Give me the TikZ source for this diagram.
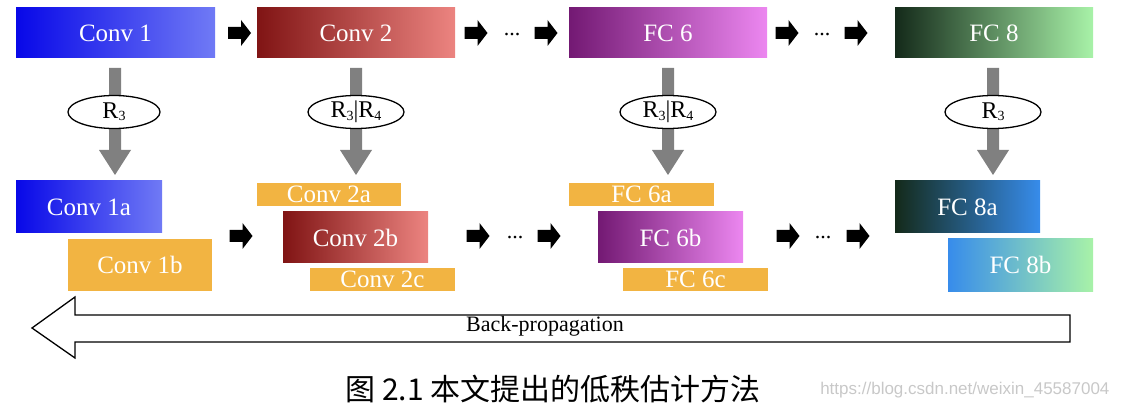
\documentclass[tikz,border=0pt]{standalone}
\usepackage{fontspec}
\setmainfont{Liberation Serif}
\newfontfamily\cjk{Noto Sans CJK SC}
\newfontfamily\wmfont{Liberation Sans}
\usetikzlibrary{shapes.geometric}
\definecolor{bluea}{RGB}{8,8,232}
\definecolor{blueb}{RGB}{112,122,245}
\definecolor{reda}{RGB}{128,20,20}
\definecolor{redb}{RGB}{236,132,128}
\definecolor{purpa}{RGB}{115,25,115}
\definecolor{purpb}{RGB}{236,135,240}
\definecolor{greena}{RGB}{20,42,26}
\definecolor{greenb}{RGB}{168,242,168}
\definecolor{skyb}{RGB}{55,140,235}
\definecolor{orng}{RGB}{242,180,66}
\definecolor{grayarr}{RGB}{128,128,128}
\definecolor{wmgray}{RGB}{200,200,200}
\begin{document}
\begin{tikzpicture}[x=1pt,y=-1pt,
  layer/.style={inner sep=0pt,text=white,font=\fontsize{25}{25}\selectfont},
  bigbox/.style={layer,minimum width=198pt,minimum height=50pt},
  subbox/.style={layer,minimum width=145pt,minimum height=52pt},
  thinbox/.style={layer,fill=orng,minimum width=145pt,minimum height=23pt},
  blk/.style={fill=black},
  grayarrow/.style={fill=grayarr},
  dots/.style={font=\fontsize{22}{22}\selectfont},
  rank/.style={ellipse,draw,line width=1.3pt,fill=white,inner sep=0pt,
    minimum width=96pt,minimum height=33pt,font=\fontsize{24}{24}\selectfont},
  back/.style={draw,line width=1.3pt,fill=white,line join=miter}
]
\useasboundingbox (0,0) rectangle (1122,414);
\newcommand{\Rsub}[1]{R\raisebox{-0.1em}{\fontsize{14}{14}\selectfont #1}}
% block arrow pointing right, centred at (#1,#2)
\newcommand{\blkarrow}[2]{\fill[blk] (#1-11.5,#2-6) -- (#1+1.5,#2-6) -- (#1+1.5,#2-13)
  -- (#1+11.5,#2) -- (#1+1.5,#2+13) -- (#1+1.5,#2+6) -- (#1-11.5,#2+6) -- cycle;}
% gray arrow pointing down at x=#1
\newcommand{\grayarrowat}[1]{\fill[grayarrow] (#1-6,68) -- (#1+6,68) -- (#1+6,150)
  -- (#1+16,150) -- (#1,175) -- (#1-16,150) -- (#1-6,150) -- cycle;}

% top row
\node[bigbox,minimum width=199pt,left color=bluea,right color=blueb] (c1) at (115.5,33) {Conv 1};
\node[bigbox,left color=reda,right color=redb] (c2) at (356,33) {Conv 2};
\node[bigbox,left color=purpa,right color=purpb] (f6) at (668,33) {FC 6};
\node[bigbox,left color=greena,right color=greenb] (f8) at (994,33) {FC 8};

\blkarrow{239.5}{33}
\blkarrow{476}{33}
\node[dots] (td1) at (512,35) {...};
\blkarrow{546}{33}
\blkarrow{787}{33}
\node[dots] (td2) at (822,35) {...};
\blkarrow{856}{33}

% gray down arrows with rank ellipses
\grayarrowat{115}
\grayarrowat{356}
\grayarrowat{668}
\grayarrowat{993}
\node[rank,minimum width=92pt] (r1) at (114,112) {\Rsub{3}};
\node[rank] (r2) at (356,112) {\Rsub{3}|\Rsub{4}};
\node[rank] (r3) at (668,112) {\Rsub{3}|\Rsub{4}};
\node[rank] (r4) at (993,112) {\Rsub{3}};

% bottom row
\node[subbox,minimum width=146pt,left color=bluea,right color=blueb] (c1a) at (89,207) {Conv 1a};
\node[subbox,minimum width=144pt,fill=orng] (c1b) at (140,265) {Conv 1b};
\node[thinbox,minimum width=144pt] (c2a) at (329,194.5) {Conv 2a};
\node[subbox,minimum height=51pt,left color=reda,right color=redb] (c2b) at (355.5,237.5) {Conv 2b};
\node[thinbox] (c2c) at (382.5,279.5) {Conv 2c};
\node[thinbox] (f6a) at (641.5,194.5) {FC 6a};
\node[subbox,minimum height=51pt,left color=purpa,right color=purpb] (f6b) at (670.5,237.5) {FC 6b};
\node[thinbox] (f6c) at (695.5,279.5) {FC 6c};
\node[subbox,left color=greena,right color=skyb] (f8a) at (967.5,207) {FC 8a};
\node[subbox,left color=skyb,right color=greenb] (f8b) at (1020.5,265) {FC 8b};

\blkarrow{241}{236}
\blkarrow{478}{236}
\node[dots] (bd1) at (515,238) {...};
\blkarrow{549}{236}
\blkarrow{788}{236}
\node[dots] (bd2) at (823,238) {...};
\blkarrow{858}{236}

% back-propagation arrow
\draw[back] (1070,315) -- (75,315) -- (75,297) -- (32,328) -- (75,358) -- (75,342)
  -- (1070,342) -- cycle;
\node[font=\fontsize{22}{22}\selectfont] (bpt) at (545,326) {Back-propagation};

% caption and watermark
\node[font=\cjk\fontsize{30}{30}\selectfont] (cap) at (553,389) {图 2.1 本文提出的低秩估计方法};
\node[font=\wmfont\fontsize{17}{17}\selectfont,text=wmgray,anchor=east] (wm) at (1113,390) {https://blog.csdn.net/weixin\_45587004};
\end{tikzpicture}
\end{document}
